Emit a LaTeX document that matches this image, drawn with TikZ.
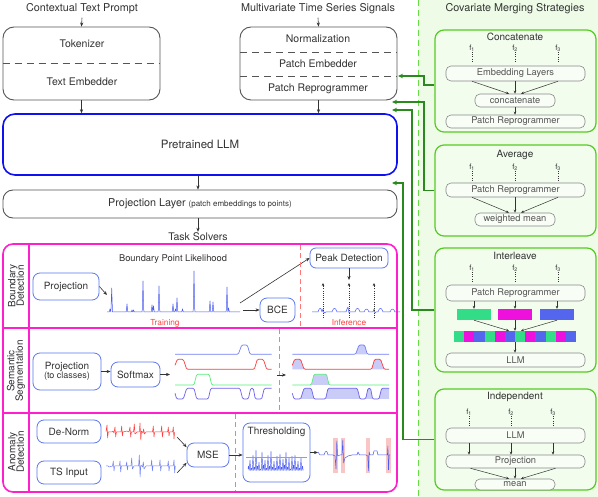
\documentclass[tikz,border=0pt]{standalone}
\usepackage{fontspec}
\setmainfont{TeX Gyre Heros}
\usetikzlibrary{arrows.meta,calc}
\definecolor{txt}{HTML}{333333}
\definecolor{boxgray}{HTML}{555555}
\definecolor{llmblue}{HTML}{1010F0}
\definecolor{mag}{HTML}{FF1FCC}
\definecolor{tblue}{HTML}{5A78F0}
\definecolor{sigblue}{HTML}{4A5CF0}
\definecolor{sigblueL}{HTML}{6F7FF5}
\definecolor{sigred}{HTML}{FF3B3B}
\definecolor{siggreen}{HTML}{55EE77}
\definecolor{sigpurple}{HTML}{6A5DF0}
\definecolor{rdashc}{HTML}{FF7777}
\definecolor{segfill}{HTML}{C9CCF7}
\definecolor{pinkc}{HTML}{F9C6C6}
\definecolor{bggreen}{HTML}{EDFBE7}
\definecolor{gdash}{HTML}{66DD44}
\definecolor{stratg}{HTML}{55CC22}
\definecolor{stratfill}{HTML}{F2FDEE}
\definecolor{iboxd}{HTML}{888888}
\definecolor{iboxf}{HTML}{F8FDF6}
\definecolor{ibtxt}{HTML}{555555}
\definecolor{dgreen}{HTML}{2A8A1E}
\definecolor{arrc}{HTML}{333333}
\definecolor{cgreen}{HTML}{33DD88}
\definecolor{cmag}{HTML}{EE11DD}
\definecolor{cblue}{HTML}{5566EE}
\definecolor{trtxt}{HTML}{FF4444}
\newcommand\fsz[1]{\fontsize{#1}{#1}\selectfont}
\begin{document}
\begin{tikzpicture}[x=1pt,y=-1pt,
  every node/.style={text=txt},
  gbox/.style={draw=boxgray, line width=0.9pt, rounded corners=11pt, minimum width=157pt, minimum height=73pt, inner sep=0pt},
  llmbox/.style={draw=llmblue, line width=1.6pt, rounded corners=12pt, inner sep=0pt},
  tkbox/.style={draw=tblue, line width=0.8pt, rounded corners=7pt, font=\fsz{10}, inner sep=0pt, align=center},
  strat/.style={draw=stratg, fill=stratfill, line width=1.2pt, rounded corners=9pt, minimum width=161pt, inner sep=0pt},
  ibox/.style={draw=iboxd, fill=iboxf, line width=0.6pt, rounded corners=5pt, font=\fsz{9.3}, text=ibtxt, inner sep=0pt},
  flab/.style={font=\fsz{7.5}, text=txt, inner sep=0.3pt},
  fdots/.style={draw=txt, line width=0.9pt, dash pattern=on 0.9pt off 1.4pt},
  arr/.style={draw=arrc, line width=0.6pt, -{Stealth[length=4pt,width=3.2pt]}},
  sarr/.style={draw=arrc, line width=0.5pt, -{Stealth[length=3pt,width=2.6pt]}},
  garr/.style={draw=dgreen, line width=1.3pt, -{Stealth[length=5pt,width=4.5pt]}},
  dotarr/.style={draw=arrc, line width=0.9pt, dash pattern=on 1pt off 1.2pt, -{Stealth[length=3pt,width=2.6pt]}},
  rdash/.style={draw=rdashc, line width=0.8pt, dash pattern=on 5pt off 3.5pt},
  sig/.style={line width=0.5pt, line join=round},
  seg/.style={line width=0.7pt, rounded corners=1.2pt},
  title/.style={font=\fsz{10.8}},
  rtitle/.style={font=\fsz{10}}
]
\useasboundingbox (0,0) rectangle (598,497);
\fill[white] (0,0) rectangle (598,497);
% right background
\fill[bggreen] (418,0) rectangle (598,497);
\draw[draw=gdash, line width=1pt, dash pattern=on 6pt off 4pt] (418,0) -- (418,497);

% ---------- top titles
\node[title] (ctp) at (82,9) {Contextual Text Prompt};
\node[title] (mts) at (318,9) {Multivariate Time Series Signals};
\node[title] (cms) at (515,9) {Covariate Merging Strategies};

% ---------- text box
\node[gbox] (tbox) at (81.5,63.5) {};
\draw[draw=boxgray, line width=0.8pt, dash pattern=on 7pt off 5pt] (tbox.west) -- (tbox.east);
\node[font=\fsz{10.5}] (tok) at (82,44) {Tokenizer};
\node[font=\fsz{10.5}] (temb) at (82,82) {Text Embedder};
\draw[arr] (ctp.south) -- (tbox.north);

% ---------- time series box
\node[gbox] (sbox) at (318.5,63.5) {};
\draw[draw=boxgray, line width=0.8pt, dash pattern=on 7pt off 5pt] (240,52) -- (397,52);
\draw[draw=boxgray, line width=0.8pt, dash pattern=on 7pt off 5pt] (240,76) -- (397,76);
\node[font=\fsz{10.5}] (norm) at (318,39) {Normalization};
\node[font=\fsz{10.5}] (pemb) at (318,64) {Patch Embedder};
\node[font=\fsz{10.5}] (prep) at (318,89) {Patch Reprogrammer};
\draw[arr] (mts.south) -- (sbox.north);

% ---------- LLM
\node[llmbox, minimum width=394pt, minimum height=61pt, font=\fsz{11.5}] (llm) at (200,144.5) {Pretrained LLM};
\draw[arr] (tbox.south) -- (tbox.south |- llm.north);
\draw[arr] (sbox.south) -- (sbox.south |- llm.north);

% ---------- projection layer
\node[draw=boxgray, line width=0.9pt, rounded corners=10pt, minimum width=394pt, minimum height=28pt, inner sep=0pt, font=\fsz{10.8}] (proj) at (200,204) {Projection Layer {\fsz{8}(patch embeddings to points)}};
\draw[arr] ($(llm.south)+(-2,0)$) -- ($(proj.north)+(-2,0)$);
\node[font=\fsz{10.5}, inner sep=1pt] (tsol) at (198,237) {Task Solvers};
\draw[arr] ($(proj.south)+(-2,0)$) -- (tsol.north);

% ---------- task solvers frame
\node[draw=mag, line width=1.6pt, rounded corners=10pt, minimum width=394pt, minimum height=248pt, inner sep=0pt] (tsk) at (200,368) {};
\draw[draw=mag, line width=1.3pt] (29,244) -- (29,492);
\draw[draw=mag, line width=1.3pt] (3,328) -- (397,328);
\draw[draw=mag, line width=1.3pt] (3,413) -- (397,413);
\node[rotate=90, align=center, font=\fsz{10}, inner sep=0pt] (lbd) at (16,286) {Boundary\\[-1.5pt]Detection};
\node[rotate=90, align=center, font=\fsz{10}, inner sep=0pt] (lss) at (16,371) {Semantic\\[-1.5pt]Segmentation};
\node[rotate=90, align=center, font=\fsz{10}, inner sep=0pt] (lad) at (16,452) {Anomaly\\[-1.5pt]Detection};

% ---------- row 1: boundary detection
\node[font=\fsz{9.3}] (bpl) at (173,259) {Boundary Point Likelihood};
\node[tkbox, minimum width=66pt, minimum height=27pt] (bproj) at (66,286.5) {Projection};
\coordinate (spa) at (107,295);
\draw[arr] (bproj.east) -- (spa);
\draw[sig, draw=sigblue] (107,312)
  \foreach \x/\t in {110/309, 111.7/288, 127/304, 132/310, 133.5/310, 143/281, 152/305, 153.5/306, 159/286, 173/304, 175.5/309, 177/298, 182.5/309, 194/271, 210/301, 213/302, 227/287, 228.5/308}
  { -- ({\x-0.8},312) -- (\x,\t) -- ({\x+0.8},312) } -- (240,312);
\node[tkbox, minimum width=35pt, minimum height=24pt] (bce) at (277.5,310) {BCE};
\coordinate (spb) at (243,310);
\draw[arr] (spb) -- (bce.west);
\node[tkbox, minimum width=78pt, minimum height=20pt, rounded corners=6pt] (peak) at (349,258) {Peak Detection};
\coordinate (spc) at (240,303);
\draw[arr] (spc) -- (peak.west);
\coordinate (pkend) at (349,280);
\draw[arr] (peak.south) -- (pkend);
\draw[rdash] (300,245) -- (300,327);
\node[font=\fsz{8.3}, text=trtxt] (trn) at (165,323) {Training};
\node[font=\fsz{8.3}, text=trtxt] (inf) at (349,323) {Inference};
\draw[sig, draw=sigblue] (312,312) -- (318,312) .. controls (319.5,307) and (321,307) .. (322,312) -- (323,309) -- (324,313) -- (326,312) -- (332,312) .. controls (333.5,307) and (335.5,307) .. (337,312) -- (346,312) -- (347,309) -- (348,307) -- (349,313) -- (350,312) -- (355,312) .. controls (356.5,307) and (358.5,307) .. (360,312) -- (364,312) .. controls (365.5,308) and (367.5,308) .. (369,312) -- (373,312) -- (374,309) -- (375,313) -- (376,312) -- (378,312) .. controls (379.5,307) and (381.5,307) .. (383,312) -- (390,312) .. controls (391.5,308) and (393.5,308) .. (395,312) -- (400,312);
\foreach \x in {323,349,374} \draw[dotarr] (\x,318) -- (\x,283);

% ---------- row 2: semantic segmentation
\node[tkbox, minimum width=68pt, minimum height=37pt] (sproj) at (67,371.5) {Projection\\[-1pt]{\fsz{9}(to classes)}};
\node[tkbox, minimum width=49pt, minimum height=25pt] (soft) at (135.5,374.5) {Softmax};
\draw[arr] (sproj.east) -- (sproj.east -| soft.west);
\coordinate (sfo) at (170,374.5);
\draw[arr] (soft.east) -- (sfo);
\draw[rdash] (279,329) -- (279,412);
\coordinate (sga) at (277,375);
\coordinate (sgb) at (286,375);
\draw[arr] (sga) -- (sgb);
\newcommand\seglines{%
\draw[seg, draw=sigblueL] (175,354.3) -- (238.3,354.3) -- (241.7,345) -- (247.3,345) -- (250,354.3) -- (271.7,354.3);
\draw[seg, draw=sigred] (175,365.3) -- (177.3,359.3) -- (183.3,359.3) -- (186.7,369.3) -- (254.3,369.3) -- (257.3,359.3) -- (263.3,359.3) -- (266.7,369.3) -- (271.7,369.3);
\draw[seg, draw=siggreen] (175,385) -- (194,385) -- (196.7,374.3) -- (209.3,374.3) -- (211.7,385) -- (271.7,385);
\draw[seg, draw=sigpurple] (175,393.3) -- (176.7,399) -- (183.3,399) -- (186.7,388.3) -- (194,388.3) -- (196.7,399) -- (208.3,399) -- (210.7,388.3) -- (240,388.3) -- (242.7,399) -- (248.3,399) -- (250.7,388.3) -- (253.3,388.3) -- (255.3,399) -- (261.7,399) -- (264.3,388.3) -- (271.7,388.3);}
\seglines
\begin{scope}[xshift=117.3pt]
\fill[segfill] (238.3,354.3) -- (241.7,345) -- (247.3,345) -- (250,354.3) -- cycle;
\fill[segfill] (175,369.3) -- (175,365.3) -- (177.3,359.3) -- (183.3,359.3) -- (186.7,369.3) -- cycle;
\fill[segfill] (254.3,369.3) -- (257.3,359.3) -- (263.3,359.3) -- (266.7,369.3) -- cycle;
\fill[segfill] (194,385) -- (196.7,374.3) -- (209.3,374.3) -- (211.7,385) -- cycle;
\fill[segfill] (183.3,399) -- (186.7,388.3) -- (194,388.3) -- (196.7,399) -- cycle;
\fill[segfill] (208.3,399) -- (210.7,388.3) -- (240,388.3) -- (242.7,399) -- cycle;
\fill[segfill] (248.3,399) -- (250.7,388.3) -- (253.3,388.3) -- (255.3,399) -- cycle;
\fill[segfill] (261.7,399) -- (264.3,388.3) -- (271.7,388.3) -- (271.7,399) -- cycle;
\seglines
\end{scope}

% ---------- row 3: anomaly detection
\node[tkbox, minimum width=64pt, minimum height=23pt] (dn) at (69,431.5) {De-Norm};
\node[tkbox, minimum width=64pt, minimum height=23pt] (tsi) at (69,472.5) {TS Input};
\draw[sig, draw=sigred] (106,432) -- (107,425) -- (107.6,438) -- (108.3,432) -- (112,432) -- (113,431) -- (114,433) -- (115,427) -- (115.7,437) -- (116.4,432) -- (121,432) -- (121.7,426) -- (122.4,436) -- (123,432) -- (127,431) -- (129,432) -- (130,427) -- (130.7,437) -- (131.4,432) -- (133.5,432) -- (134.3,424) -- (135,434) -- (137,432) -- (139.3,432) -- (140,423) -- (140.8,440) -- (141.5,431) -- (143,433) -- (143.6,429) -- (144.5,434) -- (146,432) -- (152.5,432) -- (153.3,426) -- (154,437) -- (154.7,432) -- (161,432) -- (161.7,426) -- (162.4,437) -- (163.1,432) -- (167.6,432) -- (168.3,427) -- (169,436) -- (169.7,432) -- (172.6,432) -- (173.3,427) -- (174,439) -- (174.6,432);
\draw[sig, draw=sigblueL] (106,466) -- (108,466) -- (109,467) -- (112.5,466) -- (113.3,461) -- (114,471) -- (114.7,466) -- (119.3,466) -- (120,461) -- (120.7,472) -- (121.4,466) -- (126,466) -- (126.7,462) -- (127.4,470) -- (128,466) -- (131,466) -- (131.7,458) -- (132.4,469) -- (134,466) -- (138.6,466) -- (139.3,455) -- (140.1,477) -- (140.8,465) -- (142.5,467) -- (143.3,462) -- (144,469) -- (146,466) -- (151,466) -- (151.7,460) -- (152.4,471) -- (153,466) -- (159.3,466) -- (160,460) -- (160.7,471) -- (161.4,466) -- (167.6,466) -- (168.3,461) -- (169,471) -- (169.7,466) -- (173.3,466) -- (174,460) -- (174.7,473) -- (175.3,466);
\node[tkbox, minimum width=42pt, minimum height=24pt] (mse) at (208,455) {MSE};
\coordinate (ada) at (177,437);
\coordinate (adb) at (177,473);
\draw[arr] (ada) -- (mse.160);
\draw[arr] (adb) -- (mse.200);
\draw[rdash] (235,414) -- (235,491);
\node[tkbox, minimum width=67pt, minimum height=59pt] (thr) at (276.5,452.5) {};
\node[font=\fsz{10}] (thrt) at (276.5,432) {Thresholding};
\draw[arr] (mse.east) -- (mse.east -| thr.west);
\draw[sig, draw=sigblue, line width=0.45pt] (248,469)
  \foreach \x/\t in {248.5/466, 250/460, 251.5/468, 253/455, 254.5/467, 256/450, 257.5/466, 259/462, 260.5/469, 262/452, 263.5/465, 265/460, 266.5/468, 268/455, 269.5/466, 271/451, 272.5/467, 274/461, 275.5/468, 277/456, 278.5/466, 280/454, 281.5/467, 283/459, 284.5/465, 286/452, 287.5/467, 289/458, 290.5/469, 292/456, 293.5/465, 295/455, 296.5/467, 298/461, 299.5/468, 301/458, 302.5/466}
  { -- (\x,\t) -- ({\x+0.7},470.5) };
\draw[draw=sigred!70, line width=0.7pt] (246,457.3) -- (307,457.3);
\coordinate (outs) at (318,452.5);
\draw[arr] (thr.east) -- (outs);
\fill[pinkc] (333.3,438) rectangle (337.7,473);
\fill[pinkc] (340.7,438) rectangle (345.3,473);
\fill[pinkc] (366,438) rectangle (370.3,473);
\fill[pinkc] (386,438) rectangle (390.7,473);
\draw[sig, draw=sigblue] (318,452) -- (320,455) -- (324,455) .. controls (325.5,450) and (327,450) .. (328,455) -- (333,455) -- (335,456) -- (336,469) -- (336.8,441) -- (337.6,456) -- (340,455) -- (342,455) -- (342.8,440) -- (343.6,463) -- (345,458) -- (348,456) -- (352,455) -- (357,455) -- (358,452) -- (359.5,455) -- (366,455) -- (367.8,456) -- (368.4,471) -- (369.1,452) -- (370,455) -- (373,455) -- (374,451) -- (377,451) -- (378,455) -- (385,455) -- (387.4,455) -- (387.9,446) -- (388.5,470) -- (389.2,455) -- (390,455);

% ---------- right column: Concatenate
\node[strat, minimum height=102pt] (conc) at (515.5,81) {};
\node[rtitle] (concT) at (515,37) {Concatenate};
\foreach \x/\i in {472/1,515/2,558/3} {
  \node[flab] (cf\i) at (\x,48) {f\textsubscript{\i}};
  \draw[fdots] (cf\i.south) -- ++(0,11);
}
\node[ibox, minimum width=139pt, minimum height=15pt] (emb) at (515.5,73.5) {Embedding Layers};
\node[ibox, minimum width=80pt, minimum height=13pt] (ccat) at (515,100.5) {concatenate};
\draw[sarr] ($(emb.south)+(-43.5,0)$) -- ($(ccat.north)+(-6,0)$);
\draw[sarr] (emb.south -| ccat.north) -- (ccat.north);
\draw[sarr] ($(emb.south)+(42.5,0)$) -- ($(ccat.north)+(6,0)$);
\node[ibox, minimum width=139pt, minimum height=13pt] (pr1) at (515.5,121.5) {Patch Reprogrammer};
\draw[sarr] (ccat.south) -- (ccat.south |- pr1.north);

% ---------- Average
\node[strat, minimum height=91pt] (avg) at (515.5,190.5) {};
\node[rtitle] (avgT) at (515,155) {Average};
\foreach \x/\i in {472/1,515/2,558/3} {
  \node[flab] (af\i) at (\x,167) {f\textsubscript{\i}};
  \draw[fdots] (af\i.south) -- ++(0,11);
}
\node[ibox, minimum width=139pt, minimum height=14pt] (pr2) at (515.5,190) {Patch Reprogrammer};
\node[ibox, minimum width=80pt, minimum height=13pt] (wm) at (515,219.5) {weighted mean};
\draw[sarr] ($(pr2.south)+(-43.5,0)$) -- ($(wm.north)+(-6,0)$);
\draw[sarr] (pr2.south -| wm.north) -- (wm.north);
\draw[sarr] ($(pr2.south)+(42.5,0)$) -- ($(wm.north)+(6,0)$);

% ---------- Interleave
\node[strat, minimum height=124pt] (inter) at (515.5,310) {};
\node[rtitle] (intT) at (515,256) {Interleave};
\foreach \x/\i in {472/1,515/2,558/3} {
  \node[flab] (if\i) at (\x,268) {f\textsubscript{\i}};
  \draw[fdots] (if\i.south) -- ++(0,11);
}
\node[ibox, minimum width=139pt, minimum height=16pt] (pr3) at (515.5,293) {Patch Reprogrammer};
\node[fill=cgreen, minimum width=34pt, minimum height=11pt, inner sep=0pt] (rg) at (474,314.5) {};
\node[fill=cmag, minimum width=34pt, minimum height=11pt, inner sep=0pt] (rm) at (515,314.5) {};
\node[fill=cblue, minimum width=34pt, minimum height=11pt, inner sep=0pt] (rb) at (557,314.5) {};
\draw[sarr] (pr3.south -| rg.north) -- (rg.north);
\draw[sarr] (pr3.south -| rm.north) -- (rm.north);
\draw[sarr] (pr3.south -| rb.north) -- (rb.north);
\node[minimum width=122pt, minimum height=11pt, inner sep=0pt] (strip) at (515,336.5) {};
\foreach \i in {0,3,6,9} \fill[cgreen] ({454+\i*10.1667},331) rectangle ++(10.1667,11);
\foreach \i in {1,4,7,10} \fill[cmag] ({454+\i*10.1667},331) rectangle ++(10.1667,11);
\foreach \i in {2,5,8,11} \fill[cblue] ({454+\i*10.1667},331) rectangle ++(10.1667,11);
\draw[sarr] (rg.south) -- ($(strip.north)+(-6,0)$);
\draw[sarr] (rm.south) -- (strip.north);
\draw[sarr] (rb.south) -- ($(strip.north)+(6,0)$);
\node[ibox, minimum width=139pt, minimum height=14pt] (llm2) at (515.5,360) {LLM};
\draw[sarr] (strip.south) -- (strip.south |- llm2.north);

% ---------- Independent
\node[strat, minimum height=101pt] (indep) at (515.5,439.5) {};
\node[rtitle] (indT) at (515,397) {Independent};
\foreach \x/\i in {469/1,511/2,553/3} {
  \node[flab] (nf\i) at (\x,412) {f\textsubscript{\i}};
  \draw[fdots] (nf\i.south) -- ++(0,11);
}
\node[ibox, minimum width=139pt, minimum height=15pt] (llm3) at (515.5,435.5) {LLM};
\node[ibox, minimum width=139pt, minimum height=13pt] (proj3) at (515.5,461.5) {Projection};
\foreach \d in {-46.5,-4.5,37.5} \draw[sarr] ($(llm3.south)+(\d,0)$) -- ($(proj3.north)+(\d,0)$);
\node[ibox, minimum width=80pt, minimum height=11pt] (mean) at (515,484.5) {mean};
\draw[sarr] ($(proj3.south)+(-45,0)$) -- ($(mean.north)+(-6,0)$);
\draw[sarr] (proj3.south -| mean.north) -- (mean.north);
\draw[sarr] ($(proj3.south)+(40,0)$) -- ($(mean.north)+(6,0)$);

% ---------- green connectors
\coordinate (g1) at (398,76);
\coordinate (g2) at (392,102);
\coordinate (g3) at (392,110);
\coordinate (g4) at (392,183);
\draw[garr] ($(conc.west)+(0,4)$) -- (424,85) -- (424,76) -- (g1);
\draw[garr] (avg.west) -- (424,190.5) -- (424,102) -- (g2);
\draw[garr] (inter.west) -- (412,310) -- (412,110) -- (g3);
\draw[garr] (indep.west) -- (403,439.5) -- (403,183) -- (g4);
\end{tikzpicture}
\end{document}
